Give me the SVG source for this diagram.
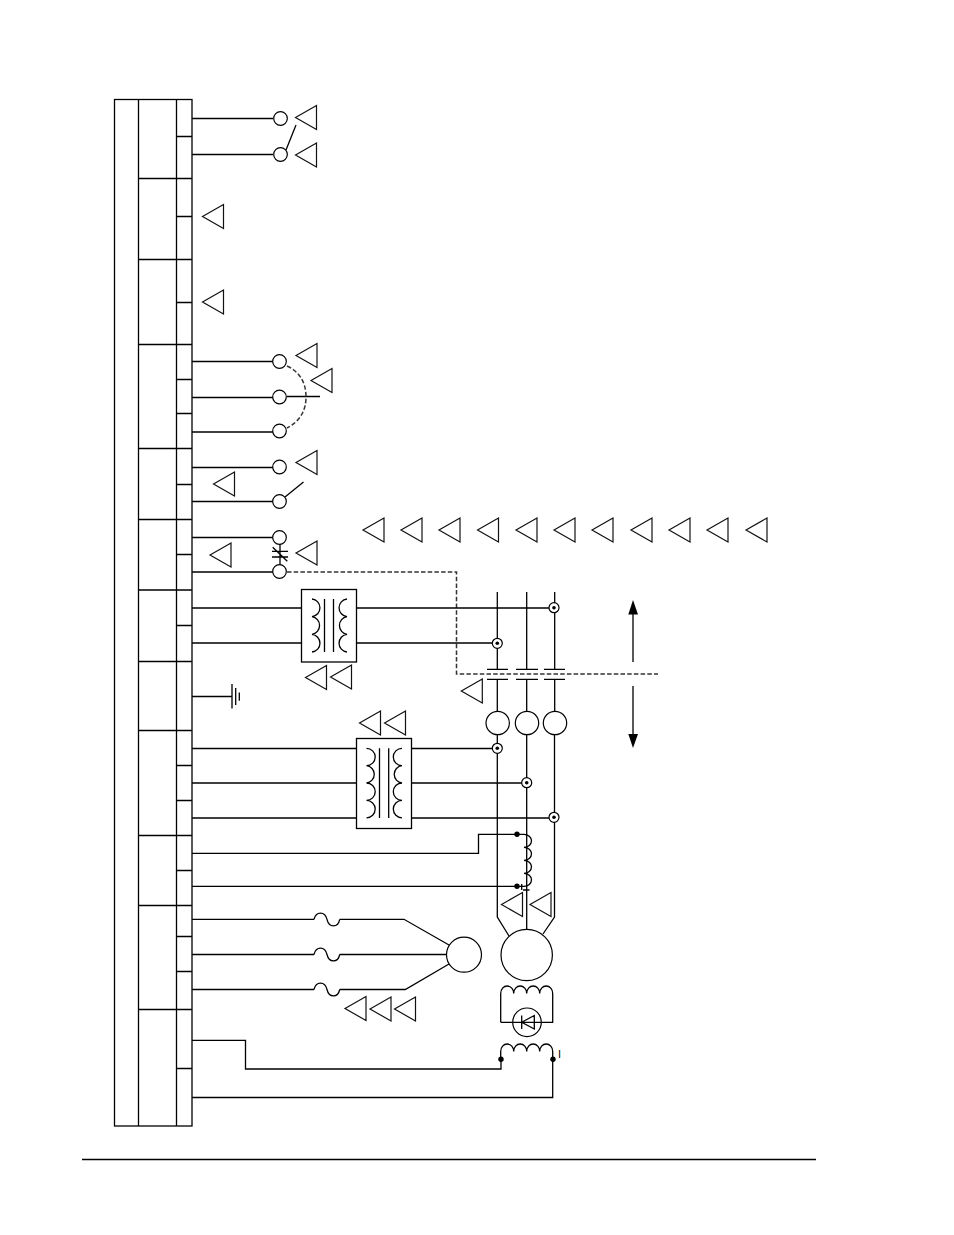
<svg xmlns="http://www.w3.org/2000/svg" width="954" height="1235" viewBox="0 0 954 1235">
<style>
.l{fill:none;stroke:#000;stroke-width:1.3}
.c{fill:#fff;stroke:#000;stroke-width:1.2}
.t{fill:none;stroke:#111;stroke-width:1.2}
.d{fill:none;stroke:#333;stroke-width:1.5;stroke-dasharray:4.5 2.2}
.f{fill:#000;stroke:none}
</style>
<defs>
<polygon id="tri" class="t" points="0,0 21,-12 21,12"/>
<g id="tgt"><circle class="c" r="5"/><circle class="f" r="1.8"/></g>
</defs>
<rect width="954" height="1235" fill="#fff"/>
<g id="table">
<rect class="l" x="114.5" y="99.5" width="77.5" height="1026.5"/>
<path class="l" d="M138.5,99.5V1126M176.5,99.5V1126M138.5,178.5H192M138.5,259.5H192M138.5,344.5H192M138.5,448.5H192M138.5,519.5H192M138.5,590H192M138.5,661.5H192M138.5,730.5H192M138.5,835.5H192M138.5,905.5H192M138.5,1009.5H192M176.5,136.5H192M176.5,216.5H192M176.5,302.5H192M176.5,379.5H192M176.5,413.5H192M176.5,484.5H192M176.5,554.5H192M176.5,625.5H192M176.5,765.5H192M176.5,800.5H192M176.5,870.5H192M176.5,936.5H192M176.5,971.5H192M176.5,1068.5H192"/>
</g>
<g id="connectors">
<path class="l" d="M192,118.5H273M192,154.5H273M192,361.5H273M192,397.5H273M192,432H273M192,467.5H273M192,501.5H273M192,537.5H273M192,572H273"/>
<path class="l" d="M286,150L296,125M287,396.5H320M285,497L303.500,482"/>
<path class="d" d="M287,366Q306,375 306,397Q306,418 287,428"/>
<path class="d" d="M287,572H456.5V674H658"/>
<path class="l" d="M192,608H301.5M192,643H301.5M356.5,608H554M356.5,643H497"/>
<path class="l" d="M192,696.5H232"/>
<path class="l" d="M192,748.5H356.5M192,783H356.5M192,818H356.5M411.5,748.5H497M411.5,783H527M411.5,818H554"/>
<path class="l" d="M497.3,592V669M526.7,592V669M554.7,592V669M497.3,679V711M526.7,679V711M554.7,679V711"/>
<path class="l" d="M497.3,735V917L509,936M526.7,735V930M554.5,735V917L543,934"/>
<path class="l" d="M192,853.3H478.5V834.3H517M192,886.3H517"/>
<path class="l" d="M192,919.3H314M339.7,919.3H404L449,945M192,954.5H314M339.7,954.5H446M192,989.5H314M339.7,989.5H405.3L449,964"/>
<path class="l" d="M192,1040.4H245.5V1069H501V1059M192,1097.5H552.7V1059"/>
</g>
<g id="terminal-1"><circle class="c" cx="280.5" cy="118.5" r="6.8"/></g>
<g id="terminal-2"><circle class="c" cx="280.5" cy="154.5" r="6.8"/></g>
<g id="terminal-3"><circle class="c" cx="279.5" cy="361.5" r="6.8"/></g>
<g id="terminal-4"><circle class="c" cx="279.5" cy="397" r="6.8"/></g>
<g id="terminal-5"><circle class="c" cx="279.5" cy="431" r="6.8"/></g>
<g id="terminal-6"><circle class="c" cx="279.5" cy="467" r="6.8"/></g>
<g id="terminal-7"><circle class="c" cx="279.5" cy="501.5" r="6.8"/></g>
<g id="contact"><path class="l" d="M280,544V565M272,551.3H288M272,557H288M272.7,547.3L287.3,561.3"/></g>
<g id="terminal-8"><circle class="c" cx="279.5" cy="537.5" r="6.8"/></g>
<g id="terminal-9"><circle class="c" cx="279.5" cy="571.5" r="6.8"/></g>
<g id="triangles">
<use href="#tri" x="295.5" y="117.5"/><use href="#tri" x="295.5" y="155"/>
<use href="#tri" x="202.5" y="216.5"/><use href="#tri" x="202.5" y="302"/>
<use href="#tri" x="296" y="355.5"/><use href="#tri" x="311" y="380.5"/>
<use href="#tri" x="296" y="462.5"/><use href="#tri" x="213.5" y="484"/>
<use href="#tri" x="296" y="553"/><use href="#tri" x="210" y="555"/>
<use href="#tri" x="363" y="530"/><use href="#tri" x="401" y="530"/><use href="#tri" x="439" y="530"/><use href="#tri" x="477.5" y="530"/><use href="#tri" x="516" y="530"/><use href="#tri" x="554" y="530"/><use href="#tri" x="592" y="530"/><use href="#tri" x="631" y="530"/><use href="#tri" x="669" y="530"/><use href="#tri" x="707" y="530"/><use href="#tri" x="746" y="530"/>
<use href="#tri" x="305.5" y="677.5"/><use href="#tri" x="330.5" y="677"/>
<use href="#tri" x="461.3" y="691"/>
<use href="#tri" x="359.5" y="723"/><use href="#tri" x="384.5" y="723"/>
<use href="#tri" x="501.5" y="904.5"/><use href="#tri" x="530" y="904.5"/>
<use href="#tri" x="345" y="1008.5"/><use href="#tri" x="370" y="1009"/><use href="#tri" x="394.5" y="1009"/>
</g>
<g id="transformer-1">
<rect class="l" x="301.5" y="589.5" width="55" height="72.5"/>
<path class="l" d="M324.5,599V652M333.5,599V652"/>
<path class="l" d="M312,599A8.9,8.9 0 0 1 312,616.7A8.9,8.9 0 0 1 312,634.3A8.9,8.9 0 0 1 312,652M347,599A8.9,8.9 0 0 0 347,616.7A8.9,8.9 0 0 0 347,634.3A8.9,8.9 0 0 0 347,652"/>
</g>
<g id="transformer-2">
<rect class="l" x="356.5" y="738.5" width="55" height="90"/>
<path class="l" d="M379.5,748.3V818M388.7,748.3V818"/>
<path class="l" d="M366.5,748.3A8.7,8.7 0 0 1 366.5,765.7A8.7,8.7 0 0 1 366.5,783A8.7,8.7 0 0 1 366.5,800.4A8.7,8.7 0 0 1 366.5,817.8M402,748.3A8.7,8.7 0 0 0 402,765.7A8.7,8.7 0 0 0 402,783A8.7,8.7 0 0 0 402,800.4A8.7,8.7 0 0 0 402,817.8"/>
</g>
<g id="ground"><path class="l" d="M232,684V708.6M235.7,688V705M239.3,692.5V700.7"/></g>
<g id="breakers"><path class="l" d="M487,669.3H508M516,669.3H538M544,669.3H565M487,679.3H508M516,679.3H538M544,679.3H565"/></g>
<g id="ct-1"><circle class="c" cx="497.7" cy="723" r="11.7"/></g>
<g id="ct-2"><circle class="c" cx="527" cy="723" r="11.7"/></g>
<g id="ct-3"><circle class="c" cx="555" cy="723" r="11.7"/></g>
<g id="targets">
<use href="#tgt" x="554" y="607.7"/><use href="#tgt" x="497.3" y="643.3"/><use href="#tgt" x="497.3" y="748.3"/><use href="#tgt" x="526.7" y="782.7"/><use href="#tgt" x="554" y="817.3"/>
</g>
<g id="series-coil">
<path class="l" d="M517,834.3H524A7.5,6.5 0 0 1 524,847.3A7.5,6.5 0 0 1 524,860.3A7.5,6.5 0 0 1 524,873.3A7.5,6.5 0 0 1 524,886.3H517"/>
<circle class="f" cx="517" cy="834.3" r="2.7"/><circle class="f" cx="517" cy="886.3" r="2.7"/>
<path class="l" d="M521.7,884V890M523,890H529.5"/>
</g>
<g id="fuses"><path class="l" d="M314,919.3C316,911 325,911 327,919.3C329,928 338,928 339.7,919.3M314,954.5C316,946 325,946 327,954.5C329,963 338,963 339.7,954.5M314,989.5C316,981 325,981 327,989.5C329,998 338,998 339.7,989.5"/></g>
<g id="aux-generator"><circle class="c" cx="464" cy="954.7" r="17.5"/></g>
<g id="generator"><circle class="c" cx="526.7" cy="955" r="25.7"/></g>
<g id="field-coil">
<path class="l" d="M500.7,1022.3V993.5A6.5,7.5 0 0 1 513.7,993.5A6.5,7.5 0 0 1 526.7,993.5A6.5,7.5 0 0 1 539.7,993.5A6.5,7.5 0 0 1 552.7,993.5V1022.3H541M513,1022.3H500.7"/>
<circle class="c" cx="527" cy="1022.3" r="14.3"/>
<path class="l" d="M513,1022.3H541M521.7,1015.5V1029M521.7,1022.3L534.3,1015.5V1029Z"/>
</g>
<g id="exciter-coil">
<path class="l" d="M500.7,1059V1051.5A6.5,7.5 0 0 1 513.7,1051.5A6.5,7.5 0 0 1 526.7,1051.5A6.5,7.5 0 0 1 539.7,1051.5A6.5,7.5 0 0 1 552.7,1051.5V1059"/>
<circle class="f" cx="501" cy="1059.3" r="2.7"/><circle class="f" cx="553" cy="1059.3" r="2.7"/>
<text x="558" y="1058" font-family="Liberation Sans, sans-serif" font-size="11">I</text>
</g>
<g id="arrows">
<path class="l" d="M633,662V610M633,686V738"/>
<polygon class="f" points="633,600 638,614.5 628.300,614.5"/>
<polygon class="f" points="633,748 638,734 628.300,734"/>
</g>
<g id="footer"><path class="l" d="M82,1159.5H816"/></g>
</svg>
